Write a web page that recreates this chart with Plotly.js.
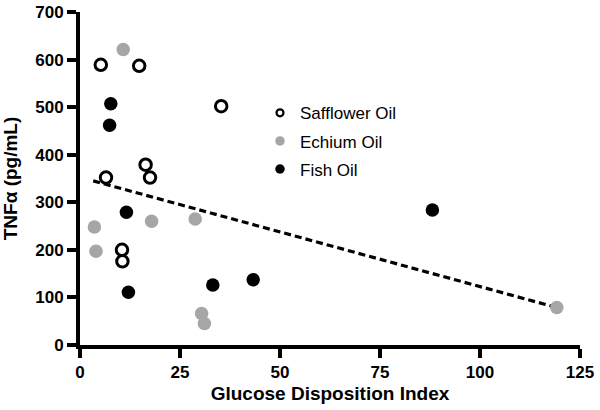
<!DOCTYPE html>
<html><head><meta charset="utf-8">
<script src="https://cdn.plot.ly/plotly-3.0.1.min.js"></script>
<style>html,body{margin:0;padding:0;background:#fff}#chart{width:600px;height:410px}</style>
</head><body><div id="chart"></div>
<script>
// Safflower Oil (open circles)
const saffX = [5.2, 14.8, 35.3, 16.4, 17.5, 6.5, 10.5, 10.6];
const saffY = [589, 587, 502, 379, 352, 352, 200, 176];
// Echium Oil (grey)
const echX = [10.8, 3.6, 4.0, 17.9, 28.8, 30.4, 31.1, 119.2];
const echY = [621, 248, 197, 260, 265, 66, 45, 79];
// Fish Oil (black)
const fishX = [7.7, 7.4, 11.6, 12.1, 33.2, 43.3, 88.1];
const fishY = [507, 462, 279, 111, 126, 137, 284];
// Dashed trend line endpoints
const fitX = [3.3, 118.2];
const fitY = [345, 81];
// Series names
const names = ['Safflower Oil', 'Echium Oil', 'Fish Oil'];

const font = "Liberation Sans, Arial, sans-serif";
const grey = '#a6a6a6';
const saffMarker = {symbol: 'circle', color: '#fff', line: {color: '#000', width: 3}};
const echMarker = {symbol: 'circle', color: grey, line: {width: 0}};
const fishMarker = {symbol: 'circle', color: '#000', line: {width: 0}};

const traces = [
  {x: fitX, y: fitY, mode: 'lines', line: {color: '#000', width: 3.2, dash: '7px,4px'}, showlegend: false, hoverinfo: 'skip'},
  {x: saffX, y: saffY, name: names[0], mode: 'markers', showlegend: false, cliponaxis: false, marker: Object.assign({size: 11.5}, saffMarker)},
  {x: echX, y: echY, name: names[1], mode: 'markers', showlegend: false, cliponaxis: false, marker: Object.assign({size: 13.5}, echMarker)},
  {x: fishX, y: fishY, name: names[2], mode: 'markers', showlegend: false, cliponaxis: false, marker: Object.assign({size: 13.5}, fishMarker)},
  // legend-only entries (smaller legend symbols, as in the original)
  {x: [null], y: [null], name: names[0], legendgroup: 'a', mode: 'markers', marker: {symbol: 'circle', size: 7, color: '#fff', line: {color: '#000', width: 2.2}}},
  {x: [null], y: [null], name: names[1], legendgroup: 'b', mode: 'markers', marker: {symbol: 'circle', size: 9.5, color: grey, line: {width: 0}}},
  {x: [null], y: [null], name: names[2], legendgroup: 'c', mode: 'markers', marker: {symbol: 'circle', size: 9.5, color: '#000', line: {width: 0}}}
];
const axisCommon = {showgrid: false, zeroline: false, showline: true, linewidth: 4, linecolor: '#000',
  ticks: 'outside', ticklen: 9, tickwidth: 4, tickcolor: '#000',
  tickfont: {size: 17, family: font, weight: 'bold', color: '#000'}};
const layout = {
  width: 600, height: 410,
  margin: {l: 80, r: 20, t: 12, b: 65},
  paper_bgcolor: '#fff', plot_bgcolor: '#fff',
  font: {family: font, color: '#000'},
  xaxis: Object.assign({range: [0, 125], tickvals: [0, 25, 50, 75, 100, 125],
    title: {text: '<b>Glucose Disposition Index</b>', font: {size: 19, family: font}, standoff: 6}}, axisCommon),
  yaxis: Object.assign({range: [0, 700], tickvals: [0, 100, 200, 300, 400, 500, 600, 700],
    title: {text: '<b>TNFα (pg/mL)</b>', font: {size: 19, family: font}, standoff: 14}}, axisCommon),
  legend: {x: 0.36, y: 0.75, xanchor: 'left', yanchor: 'top', bgcolor: 'rgba(0,0,0,0)',
    font: {size: 17, family: font}, traceorder: 'grouped', tracegroupgap: 3, itemsizing: 'trace'},
  showlegend: true
};
Plotly.newPlot('chart', traces, layout, {displayModeBar: false, staticPlot: true});
</script>
</body></html>
